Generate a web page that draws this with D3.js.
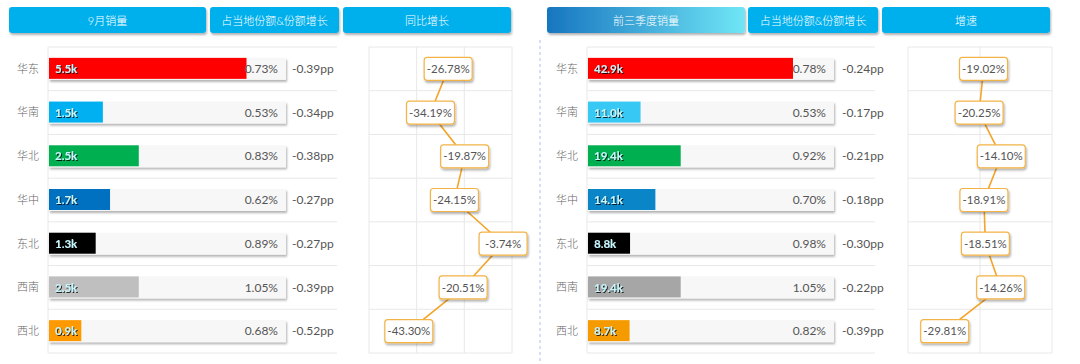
<!DOCTYPE html>
<html lang="zh">
  <head>
    <meta charset="utf-8" />
    <title>区域销量</title>
    <script src="https://d3js.org/d3.v7.min.js"></script>
    <style type="text/css">
      body {
        margin: 0;
        background: #fff;
      }
      svg text {
        font-family: Lato, "Noto Sans CJK SC", sans-serif;
      }
    </style>
  </head>
  <body>
    <script type="text/javascript">
      // data
      var regions = ["华东", "华南", "华北", "华中", "东北", "西南", "西北"];

      var sepSales = [5.5, 1.5, 2.5, 1.7, 1.3, 2.5, 0.9];
      var sepShare = [0.73, 0.53, 0.83, 0.62, 0.89, 1.05, 0.68];
      var sepShareChg = [-0.39, -0.34, -0.38, -0.27, -0.27, -0.39, -0.52];
      var sepYoy = [-26.78, -34.19, -19.87, -24.15, -3.74, -20.51, -43.3];
      var sepColors = ["#ff0000", "#00b0f0", "#00b050", "#0070c0", "#000000", "#bfbfbf", "#ff9900"];

      var q3Sales = [42.9, 11.0, 19.4, 14.1, 8.8, 19.4, 8.7];
      var q3Share = [0.78, 0.53, 0.92, 0.7, 0.98, 1.05, 0.82];
      var q3ShareChg = [-0.24, -0.17, -0.21, -0.18, -0.3, -0.22, -0.39];
      var q3Growth = [-19.02, -20.25, -14.1, -18.91, -18.51, -14.26, -29.81];
      var q3Colors = ["#ff0000", "#38c8f4", "#00b050", "#0a86c8", "#000000", "#a6a6a6", "#f59b00"];

      var leftHeaders = ["9月销量", "占当地份额&份额增长", "同比增长"];
      var rightHeaders = ["前三季度销量", "占当地份额&份额增长", "增速"];
      var yoyTicks = [-60, -40, -20, 0];
      var growthTicks = [-40, -20, 0];

      var w = 1080, h = 364;
      var svg = d3.select("body").append("svg").attr("width", w).attr("height", h);
      var defs = svg.append("defs");

      var sh = defs.append("filter").attr("id", "shadow")
        .attr("x", "-20%").attr("y", "-30%").attr("width", "140%").attr("height", "170%");
      sh.append("feDropShadow").attr("dx", 1).attr("dy", 2).attr("stdDeviation", 1.3)
        .attr("flood-color", "#000").attr("flood-opacity", 0.3);

      var ts = defs.append("filter").attr("id", "tshadow")
        .attr("x", "-20%").attr("y", "-30%").attr("width", "140%").attr("height", "170%");
      ts.append("feDropShadow").attr("dx", 1).attr("dy", 1).attr("stdDeviation", 0.6)
        .attr("flood-color", "#000").attr("flood-opacity", 0.8);

      var grad = defs.append("linearGradient").attr("id", "hgrad");
      grad.append("stop").attr("offset", "0%").attr("stop-color", "#1776c0");
      grad.append("stop").attr("offset", "100%").attr("stop-color", "#70e6f6");

      // header buttons
      function headers(labels, xs, first) {
        labels.forEach(function (t, i) {
          var g = svg.append("g");
          g.append("rect")
            .attr("x", xs[i][0]).attr("y", 7)
            .attr("width", xs[i][1] - xs[i][0]).attr("height", 26)
            .attr("rx", 3)
            .attr("fill", i === 0 && first ? "url(#hgrad)" : "#00b0ec")
            .attr("filter", "url(#shadow)");
          g.append("text")
            .attr("x", (xs[i][0] + xs[i][1]) / 2).attr("y", 21)
            .attr("dy", "0.35em").attr("text-anchor", "middle")
            .attr("fill", "#fff").attr("font-size", 11).attr("font-weight", 300)
            .text(t);
        });
      }
      headers(leftHeaders, [[9, 206], [210, 339], [343, 511]], false);
      headers(rightHeaders, [[547, 745], [748, 878], [882, 1050]], true);

      // separator
      svg.append("line")
        .attr("x1", 540).attr("x2", 540).attr("y1", 40).attr("y2", 362)
        .attr("stroke", "#a9c2ee").attr("stroke-dasharray", "3,3");

      var yBand = d3.scaleBand().domain(regions).range([47, 353]);

      function barPanel(o) {
        var g = svg.append("g");
        var x = d3.scaleLinear().domain([0, d3.max(o.sales) * 1.2]).range([0, o.bgW]);

        // grid
        g.selectAll("line.h").data(regions.concat(["end"])).enter().append("line")
          .attr("x1", o.x0).attr("x2", o.gridEnd)
          .attr("y1", function (d, i) { return 47 + i * yBand.bandwidth(); })
          .attr("y2", function (d, i) { return 47 + i * yBand.bandwidth(); })
          .attr("stroke", "#e8e8e8");
        g.append("line").attr("x1", o.x0).attr("x2", o.x0).attr("y1", 47).attr("y2", 353)
          .attr("stroke", "#e8e8e8");

        var rows = g.selectAll("g.row").data(regions).enter().append("g")
          .attr("transform", function (d) { return "translate(0," + (yBand(d) + yBand.bandwidth() / 2) + ")"; });

        rows.append("text")
          .attr("x", o.labelX).attr("dy", "0.35em").attr("text-anchor", "middle")
          .attr("fill", "#666").attr("font-size", 11).attr("font-weight", 300)
          .text(function (d) { return d; });

        rows.append("rect")
          .attr("x", o.x0 + 1).attr("y", -11).attr("width", o.bgW).attr("height", 22)
          .attr("fill", "#f7f7f7").attr("filter", "url(#shadow)");

        rows.append("rect")
          .attr("x", o.x0 + 1).attr("y", -11)
          .attr("width", function (d, i) { return x(o.sales[i]); })
          .attr("height", 21)
          .attr("fill", function (d, i) { return o.colors[i]; });

        rows.append("text")
          .attr("x", o.x0 + 7).attr("dy", "0.36em")
          .attr("fill", "#c6f6fc").attr("font-size", 11.5).attr("font-weight", "bold")
          .attr("filter", "url(#tshadow)")
          .text(function (d, i) { return o.sales[i].toFixed(1) + "k"; });

        rows.append("text")
          .attr("x", o.x0 + o.bgW - 7).attr("dy", "0.35em").attr("text-anchor", "end")
          .attr("fill", "#555").attr("font-size", 12)
          .text(function (d, i) { return o.share[i].toFixed(2) + "%"; });

        rows.append("text")
          .attr("x", o.ppX).attr("dy", "0.35em")
          .attr("fill", "#555").attr("font-size", 12)
          .text(function (d, i) { return o.chg[i].toFixed(2) + "pp"; });
      }

      barPanel({ x0: 48, bgW: 237, gridEnd: 337, labelX: 28, ppX: 292,
        sales: sepSales, share: sepShare, chg: sepShareChg, colors: sepColors });
      barPanel({ x0: 587, bgW: 246, gridEnd: 875, labelX: 567, ppX: 842,
        sales: q3Sales, share: q3Share, chg: q3ShareChg, colors: q3Colors });

      function linePanel(o) {
        var g = svg.append("g");
        var x = d3.scaleLinear().domain(d3.extent(o.ticks)).range([o.x0, o.x1]);
        var cy = function (d) { return yBand(d) + yBand.bandwidth() / 2; };

        g.selectAll("line.v").data(o.ticks).enter().append("line")
          .attr("x1", function (d) { return x(d); }).attr("x2", function (d) { return x(d); })
          .attr("y1", 47).attr("y2", 353).attr("stroke", "#e8e8e8");
        g.selectAll("line.h").data(regions.concat(["end"])).enter().append("line")
          .attr("x1", o.x0).attr("x2", o.x1)
          .attr("y1", function (d, i) { return 47 + i * yBand.bandwidth(); })
          .attr("y2", function (d, i) { return 47 + i * yBand.bandwidth(); })
          .attr("stroke", "#e8e8e8");

        var line = d3.line()
          .x(function (d, i) { return x(o.values[i]); })
          .y(function (d) { return cy(d); });
        g.append("path").datum(regions).attr("d", line)
          .attr("fill", "none").attr("stroke", "#f3a42a").attr("stroke-width", 1.6);

        var lab = g.selectAll("g.lab").data(regions).enter().append("g")
          .attr("transform", function (d, i) { return "translate(" + x(o.values[i]) + "," + cy(d) + ")"; });
        lab.append("rect")
          .attr("x", -24).attr("y", -11.5).attr("width", 48).attr("height", 23).attr("rx", 3)
          .attr("fill", "#fff").attr("stroke", "#f3b347").attr("stroke-width", 1.2)
          .attr("filter", "url(#shadow)");
        lab.append("text")
          .attr("dy", "0.36em").attr("text-anchor", "middle")
          .attr("fill", "#555").attr("font-size", 11.5)
          .text(function (d, i) { return o.values[i].toFixed(2) + "%"; });
      }

      linePanel({ x0: 369, x1: 512, ticks: yoyTicks, values: sepYoy });
      linePanel({ x0: 908, x1: 1052, ticks: growthTicks, values: q3Growth });
    </script>
  </body>
</html>
